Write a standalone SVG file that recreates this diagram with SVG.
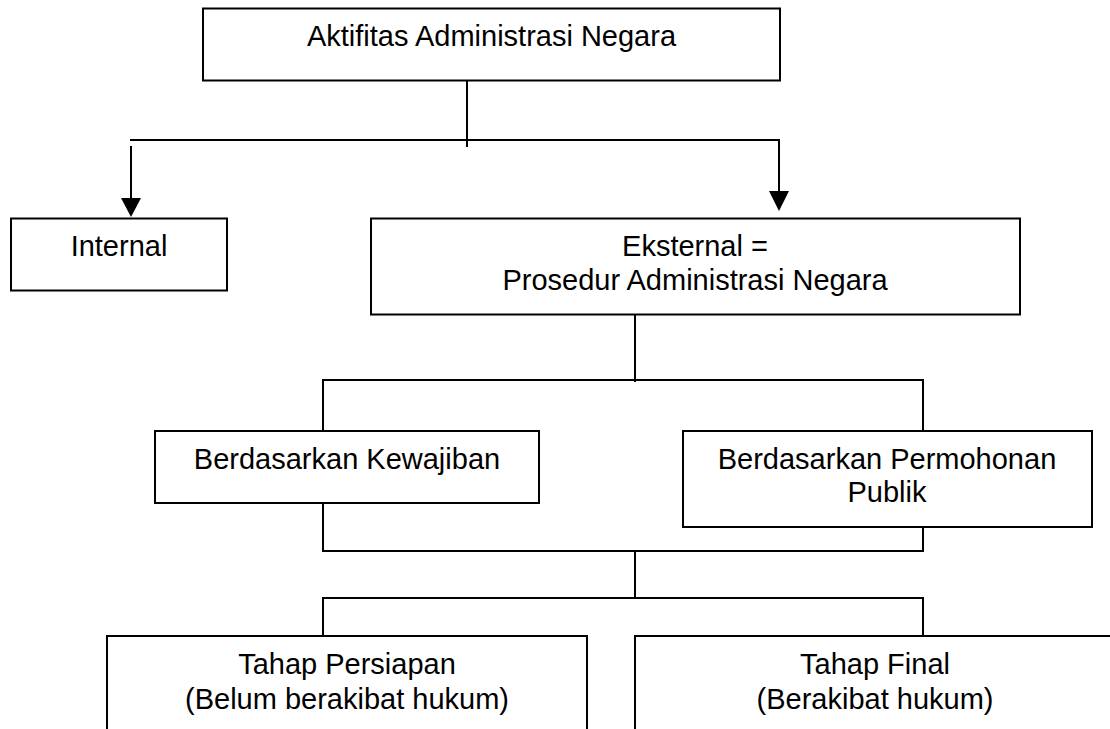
<svg xmlns="http://www.w3.org/2000/svg" width="1110" height="729" viewBox="0 0 1110 729">
  <style>
    .box { fill: #fff; stroke: #000; stroke-width: 2; }
    .lbl { font-family: "Liberation Sans", Arial, sans-serif; font-size: 29px; fill: #000; text-anchor: middle; }
    .wire { fill: none; stroke: #000; stroke-width: 2; }
    .head { fill: #000; stroke: none; }
  </style>
  <rect width="1110" height="729" fill="#fff"/>

  <!-- connectors -->
  <g id="connectors">
    <!-- top split -->
    <line class="wire" x1="467" y1="80" x2="467" y2="147"/>
    <line class="wire" x1="130" y1="140" x2="780" y2="140"/>
    <line class="wire" x1="131" y1="146" x2="131" y2="200"/>
    <polygon class="head" points="121,198 141,198 131,217"/>
    <line class="wire" x1="779" y1="139" x2="779" y2="193"/>
    <polygon class="head" points="769,191 789,191 779,211"/>
    <!-- Eksternal to the two bases -->
    <line class="wire" x1="635" y1="314" x2="635" y2="382"/>
    <polyline class="wire" points="323,431 323,380 923,380 923,431"/>
    <!-- bases merge -->
    <polyline class="wire" points="323,503 323,551 923,551 923,527"/>
    <line class="wire" x1="635" y1="551" x2="635" y2="598"/>
    <polyline class="wire" points="323,636 323,598 923,598 923,636"/>
  </g>

  <g id="aktifitas">
    <rect class="box" x="203" y="8.5" width="577" height="72"/>
    <text class="lbl" x="491.5" y="46">Aktifitas Administrasi Negara</text>
  </g>

  <g id="internal">
    <rect class="box" x="11" y="218.5" width="216" height="72"/>
    <text class="lbl" x="119" y="256">Internal</text>
  </g>

  <g id="eksternal">
    <rect class="box" x="371" y="218.5" width="649" height="96"/>
    <text class="lbl" x="695" y="256">Eksternal =</text>
    <text class="lbl" x="695" y="289.5">Prosedur Administrasi Negara</text>
  </g>

  <g id="kewajiban">
    <rect class="box" x="155" y="431" width="384" height="72"/>
    <text class="lbl" x="347" y="468.5">Berdasarkan Kewajiban</text>
  </g>

  <g id="permohonan">
    <rect class="box" x="683" y="431" width="409" height="96"/>
    <text class="lbl" x="887" y="468.5">Berdasarkan Permohonan</text>
    <text class="lbl" x="887" y="502">Publik</text>
  </g>

  <g id="persiapan">
    <rect class="box" x="107" y="636" width="480" height="110"/>
    <text class="lbl" x="347" y="674">Tahap Persiapan</text>
    <text class="lbl" x="347" y="708.5">(Belum berakibat hukum)</text>
  </g>

  <g id="final">
    <rect class="box" x="635" y="636" width="500" height="110"/>
    <text class="lbl" x="875" y="674">Tahap Final</text>
    <text class="lbl" x="875" y="708.5">(Berakibat hukum)</text>
  </g>
</svg>
